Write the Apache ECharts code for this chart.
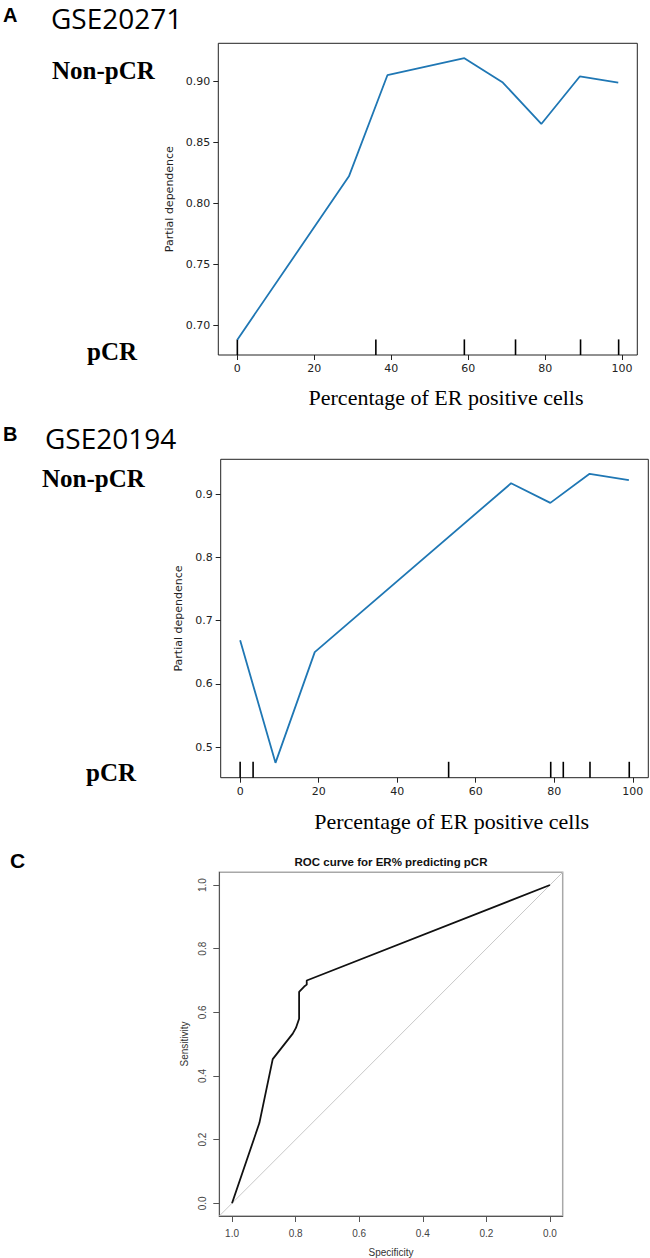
<!DOCTYPE html>
<html>
<head>
<meta charset="utf-8">
<script src="https://cdn.jsdelivr.net/npm/echarts@6/dist/echarts.min.js"></script>
<style>
html,body{margin:0;padding:0;background:#fff;}
#chart{width:650px;height:1258px;}
</style>
</head>
<body>
<div id="chart"></div>
<script>
// ---------- Panel A: GSE20271 partial dependence ----------
const aX = [0, 29, 39, 49, 59, 69, 79, 89, 99];
const aY = [0.688, 0.822, 0.905, 0.912, 0.919, 0.899, 0.865, 0.904, 0.899];
const aDeciles = [0, 36, 59, 72.3, 89.2, 99.1];
const aYTicks = [0.70, 0.75, 0.80, 0.85, 0.90];
const aXTicks = [0, 20, 40, 60, 80, 100];

// ---------- Panel B: GSE20194 partial dependence ----------
const bX = [0, 9, 19, 69, 79, 89, 99];
const bY = [0.669, 0.475, 0.650, 0.917, 0.886, 0.932, 0.922];
const bDeciles = [0, 3.3, 53.1, 79.1, 82.3, 89.1, 99.1];
const bYTicks = [0.5, 0.6, 0.7, 0.8, 0.9];
const bXTicks = [0, 20, 40, 60, 80, 100];

// ---------- Panel C: ROC curve ----------
const rocSpec = [1.0, 0.914, 0.872, 0.809, 0.799, 0.789, 0.789, 0.773, 0.765, 0.765, 0.0];
const rocSens = [0.0, 0.252, 0.453, 0.533, 0.551, 0.580, 0.664, 0.681, 0.687, 0.700, 1.0];
const rocTicks = [0, 0.2, 0.4, 0.6, 0.8, 1.0];

const aRange = {xmin: -4.95, xmax: 103.95, ymin: 0.6754, ymax: 0.9312};
const bRange = {xmin: -4.95, xmax: 103.95, ymin: 0.4515, ymax: 0.9549};
const cRange = {min: -0.04, max: 1.04};

const chart = echarts.init(document.getElementById('chart'), null, {renderer: 'svg'});

const MPL = "'DejaVu Sans', sans-serif";
const SERIF = "'Liberation Serif', 'Times New Roman', serif";
const SANS = "'Liberation Sans', Arial, sans-serif";
const spine = '#222';

function pdX(grid, r, ticks) {
  return {
    type: 'value', gridIndex: grid, min: r.xmin, max: r.xmax,
    axisLine: {show: false, onZero: false},
    splitLine: {show: false},
    axisTick: {show: true, length: 5, customValues: ticks, lineStyle: {color: spine, width: 1}},
    axisLabel: {customValues: ticks, fontSize: 11, color: '#222', fontFamily: MPL, margin: 8}
  };
}
function pdY(grid, r, ticks, digits, gap) {
  return {
    type: 'value', gridIndex: grid, min: r.ymin, max: r.ymax,
    name: 'Partial dependence', nameLocation: 'middle', nameGap: gap,
    nameTextStyle: {fontSize: 11, color: '#222', fontFamily: MPL},
    axisLine: {show: false, onZero: false},
    splitLine: {show: false},
    axisTick: {show: true, length: 5, customValues: ticks, lineStyle: {color: spine, width: 1}},
    axisLabel: {customValues: ticks, fontSize: 11, color: '#222', fontFamily: MPL, margin: 8,
      formatter: v => v.toFixed(digits)}
  };
}
function rug(xi, yi, vals, ymin, h) {
  return {
    type: 'custom', xAxisIndex: xi, yAxisIndex: yi, silent: true,
    data: vals.map(v => [v, ymin]),
    renderItem: function (params, api) {
      const p = api.coord([api.value(0), ymin]);
      return {type: 'line', shape: {x1: p[0], y1: p[1], x2: p[0], y2: p[1] - h},
        style: {stroke: '#000', lineWidth: 1.6}};
    }
  };
}

const option = {
  backgroundColor: '#fff',
  animation: false,
  grid: [
    {left: 218.3, top: 43.3, width: 419, height: 311.7, show: true, borderColor: spine, borderWidth: 1, backgroundColor: 'transparent'},
    {left: 220.7, top: 459.3, width: 427.6, height: 318.4, show: true, borderColor: spine, borderWidth: 1, backgroundColor: 'transparent'},
    {left: 219.3, top: 872.3, width: 343.4, height: 343.7, show: true, borderColor: '#a8a8a8', borderWidth: 1.5, backgroundColor: 'transparent'}
  ],
  xAxis: [
    pdX(0, aRange, aXTicks),
    pdX(1, bRange, bXTicks),
    {
      type: 'value', gridIndex: 2, min: cRange.min, max: cRange.max, inverse: true, position: 'bottom',
      axisLine: {show: true, onZero: false, lineStyle: {color: '#555', width: 1}},
      splitLine: {show: false},
      axisTick: {show: true, length: 6, customValues: rocTicks, lineStyle: {color: '#555'}},
      axisLabel: {customValues: rocTicks, fontSize: 10, color: '#444', fontFamily: SANS, margin: 12,
        formatter: v => v.toFixed(1)}
    }
  ],
  yAxis: [
    pdY(0, aRange, aYTicks, 2, 39),
    pdY(1, bRange, bYTicks, 1, 32),
    {
      type: 'value', gridIndex: 2, min: cRange.min, max: cRange.max, position: 'left',
      axisLine: {show: true, onZero: false, lineStyle: {color: '#555', width: 1}},
      splitLine: {show: false},
      axisTick: {show: true, length: 6, customValues: rocTicks, lineStyle: {color: '#555'}},
      axisLabel: {customValues: rocTicks, fontSize: 10, color: '#444', fontFamily: SANS, margin: 12, rotate: 90,
        formatter: v => v.toFixed(1)}
    }
  ],
  series: [
    {type: 'line', xAxisIndex: 0, yAxisIndex: 0, data: aX.map((x, i) => [x, aY[i]]),
      showSymbol: false, symbol: 'none', lineStyle: {color: '#1f77b4', width: 1.8}, silent: true},
    rug(0, 0, aDeciles, aRange.ymin, 15.6),
    {type: 'line', xAxisIndex: 1, yAxisIndex: 1, data: bX.map((x, i) => [x, bY[i]]),
      showSymbol: false, symbol: 'none', lineStyle: {color: '#1f77b4', width: 1.8}, silent: true},
    rug(1, 1, bDeciles, bRange.ymin, 15.9),
    {type: 'line', xAxisIndex: 2, yAxisIndex: 2, data: [[cRange.max, cRange.min], [cRange.min, cRange.max]],
      showSymbol: false, symbol: 'none', lineStyle: {color: '#c8c8c8', width: 1}, silent: true, clip: true},
    {type: 'line', xAxisIndex: 2, yAxisIndex: 2, data: rocSpec.map((s, i) => [s, rocSens[i]]),
      showSymbol: false, symbol: 'none', lineStyle: {color: '#111', width: 1.8}, silent: true}
  ],
  graphic: [
    {type: 'text', x: 3, y: 15, style: {text: 'A', font: "bold 20px 'Liberation Sans', Arial, sans-serif", fill: '#000', verticalAlign: 'middle'}},
    {type: 'text', x: 51, y: 18, style: {text: 'GSE20271', font: "28px 'Open Sans', sans-serif", fill: '#000', verticalAlign: 'middle'}},
    {type: 'text', x: 52, y: 70, style: {text: 'Non-pCR', font: "bold 25px " + SERIF, fill: '#000', verticalAlign: 'middle'}},
    {type: 'text', x: 87, y: 351, style: {text: 'pCR', font: "bold 25px " + SERIF, fill: '#000', verticalAlign: 'middle'}},
    {type: 'text', x: 446, y: 397, style: {text: 'Percentage of ER positive cells', font: "22px " + SERIF, fill: '#000', align: 'center', verticalAlign: 'middle'}},

    {type: 'text', x: 3, y: 434, style: {text: 'B', font: "bold 20px 'Liberation Sans', Arial, sans-serif", fill: '#000', verticalAlign: 'middle'}},
    {type: 'text', x: 45, y: 438, style: {text: 'GSE20194', font: "28px 'Open Sans', sans-serif", fill: '#000', verticalAlign: 'middle'}},
    {type: 'text', x: 42, y: 478, style: {text: 'Non-pCR', font: "bold 25px " + SERIF, fill: '#000', verticalAlign: 'middle'}},
    {type: 'text', x: 86, y: 772, style: {text: 'pCR', font: "bold 25px " + SERIF, fill: '#000', verticalAlign: 'middle'}},
    {type: 'text', x: 451.7, y: 821, style: {text: 'Percentage of ER positive cells', font: "22px " + SERIF, fill: '#000', align: 'center', verticalAlign: 'middle'}},

    {type: 'text', x: 10, y: 860, style: {text: 'C', font: "bold 21px 'Liberation Sans', Arial, sans-serif", fill: '#000', verticalAlign: 'middle'}},
    {type: 'text', x: 391, y: 862, style: {text: 'ROC curve for ER% predicting pCR', font: "bold 11.5px " + SANS, fill: '#111', align: 'center', verticalAlign: 'middle'}},
    {type: 'text', x: 391, y: 1252, style: {text: 'Specificity', font: "10px " + SANS, fill: '#333', align: 'center', verticalAlign: 'middle'}},
    {type: 'text', x: 184.3, y: 1044, rotation: Math.PI / 2, style: {text: 'Sensitivity', font: "10px " + SANS, fill: '#333', align: 'center', verticalAlign: 'middle'}}
  ]
};
chart.setOption(option);
</script>
</body>
</html>
